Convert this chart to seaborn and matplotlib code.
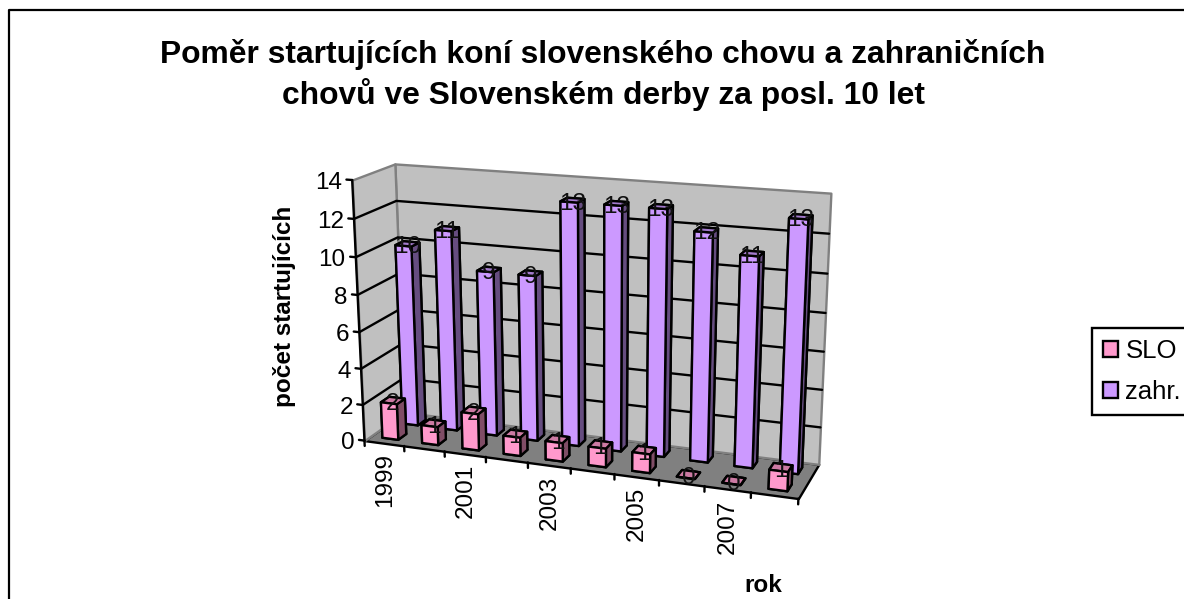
import numpy as np
import matplotlib
matplotlib.use("Agg")
import matplotlib.pyplot as plt
import seaborn as sns
from matplotlib.patches import Patch
from mpl_toolkits.mplot3d.art3d import Poly3DCollection

years = [1999, 2000, 2001, 2002, 2003, 2004, 2005, 2006, 2007, 2008]
slo = [2, 1, 2, 1, 1, 1, 1, 0, 0, 1]
zahr = [10, 11, 9, 9, 13, 13, 13, 12, 11, 13]
z_ticks = [0, 2, 4, 6, 8, 10, 12, 14]

W, H = 1184, 599
FS = 17.5
LW = 1.7

sns.set_theme(style="white")
plt.rcParams["font.family"] = ["Liberation Sans", "DejaVu Sans"]
pink, purple = sns.color_palette(["#FF99CC", "#CC99FF"])

# where the box corners of the excel chart sit in the picture (x, depth, z) -> pixels
corners = [
    ((0, 0, 0), (364, 443)),
    ((0, 0, 14), (353, 179)),
    ((0, 1, 14), (394, 165)),
    ((0, 1, 0), (405, 410)),
    ((10, 1, 14), (831, 193)),
    ((10, 1, 0), (819, 466)),
    ((10, 0, 0), (798, 497)),
]

# perspective matrix from the corners
rows = []
for (x, y, z), (u, v) in corners:
    v = H - v
    rows.append([x, y, z, 1, 0, 0, 0, 0, -u * x, -u * y, -u * z, -u])
    rows.append([0, 0, 0, 0, x, y, z, 1, -v * x, -v * y, -v * z, -v])
P = np.linalg.svd(np.array(rows, dtype=float))[2][-1].reshape(3, 4)
if P[2] @ np.array([5, 0.5, 7, 1]) < 0:
    P = -P


def to_fig(x, y, z):
    p = P @ np.array([x, y, z, 1.0])
    return p[0] / p[2] / W, p[1] / p[2] / H


fig = plt.figure(figsize=(W / 100, H / 100), dpi=100)
side = W / H
ax = fig.add_axes([0, (1 - side) / 2, 1, side], projection="3d", computed_zorder=False)
ax.set_axis_off()
ax.patch.set_visible(False)
fig.patch.set_facecolor("white")


def proj():
    ax.apply_aspect()
    A = ax.transData.inverted().get_matrix() @ P
    return np.array([A[0], A[1], [0, 0, 0, -1.0], A[2]])


ax.get_proj = proj


def wall(verts, color, edge, zo):
    ax.add_collection3d(Poly3DCollection([verts], facecolor=color, edgecolor=edge, linewidth=LW, zorder=zo))


wall([(0, 0, 0), (10, 0, 0), (10, 1, 0), (0, 1, 0)], "#808080", "black", 1)
wall([(0, 1, 0), (10, 1, 0), (10, 1, 14), (0, 1, 14)], "#C0C0C0", "#808080", 1.1)
wall([(0, 0, 0), (0, 1, 0), (0, 1, 14), (0, 0, 14)], "#C0C0C0", "#808080", 1.1)

# mrizka
for z in z_ticks[1:-1]:
    ax.plot([0, 0, 10], [0, 1, 1], [z, z, z], color="black", lw=LW, zorder=1.5)

# osy a ticky
ax.plot([0, 0], [0, 0], [0, 14], color="black", lw=LW, zorder=1.5)
for z in z_ticks:
    ax.plot([-0.14, 0], [0, 0], [z, z], color="black", lw=LW, zorder=1.5)
    fx, fy = to_fig(-0.25, 0, z)
    fig.text(fx, fy - 1.5 / H, str(z), ha="right", va="center_baseline", fontsize=FS, color="black")
for i in range(len(years) + 1):
    ax.plot([i, i], [0, 0], [0, -0.3], color="black", lw=LW, zorder=1.5)
for i in range(0, len(years), 2):
    fx, fy = to_fig(i + 0.5, 0, -0.55)
    fig.text(fx, fy, str(years[i]), rotation=90, ha="center", va="top", fontsize=FS, color="black")


def bars(values, y0, color, zo):
    n = len(values)
    c = np.array(color)
    faces = [c * 0.5, c * 0.8, c, c * 0.5, c * 0.5, c * 0.5] * n
    ax.bar3d(np.arange(n) + 0.3, [y0] * n, [0] * n, 0.4, 0.2, values, color=faces, shade=False,
             edgecolor="black", linewidth=LW, zorder=zo)
    for i, v in enumerate(values):
        fx, fy = to_fig(i + 0.5, y0 + 0.1, v)
        fig.text(fx, fy - 1 / H, str(v), ha="center", va="center_baseline", fontsize=FS, color="#111111")


bars(zahr, 0.65, purple, 3)
bars(slo, 0.15, pink, 4)

fig.text(603 / W, 1 - 55 / H, "Poměr startujících koní slovenského chovu a zahraničních", ha="center", va="center",
         fontsize=22.9, fontweight="bold", color="black")
fig.text(603 / W, 1 - 95 / H, "chovů ve Slovenském derby za posl. 10 let", ha="center", va="center",
         fontsize=22.9, fontweight="bold", color="black")
fig.text(284 / W, 1 - 306 / H, "počet startujících", rotation=90, ha="center", va="center",
         fontsize=FS, fontweight="bold", color="black")
fig.text(763 / W, 1 - 585 / H, "rok", ha="center", va="center", fontsize=FS, fontweight="bold", color="black")

handles = [Patch(facecolor=pink, edgecolor="black", linewidth=LW),
           Patch(facecolor=purple, edgecolor="black", linewidth=LW)]
leg = fig.legend(handles, ["SLO", "zahr."], loc="upper left", bbox_to_anchor=(1092 / W, 1 - 328 / H),
                 borderaxespad=0, fontsize=18.5, fancybox=False, framealpha=1, edgecolor="black",
                 handlelength=0.58, handleheight=0.58, handletextpad=0.3, labelspacing=0.68, borderpad=0.42)
leg.get_frame().set_linewidth(LW)
for t in leg.get_texts():
    t.set_color("black")

# ramecek grafu, vpravo a dole je oriznuty
fig.add_artist(plt.Line2D([9 / W, 9 / W, 1], [0, 1 - 10 / H, 1 - 10 / H], color="black", lw=1.6))

fig.savefig("out.png", dpi=100)
